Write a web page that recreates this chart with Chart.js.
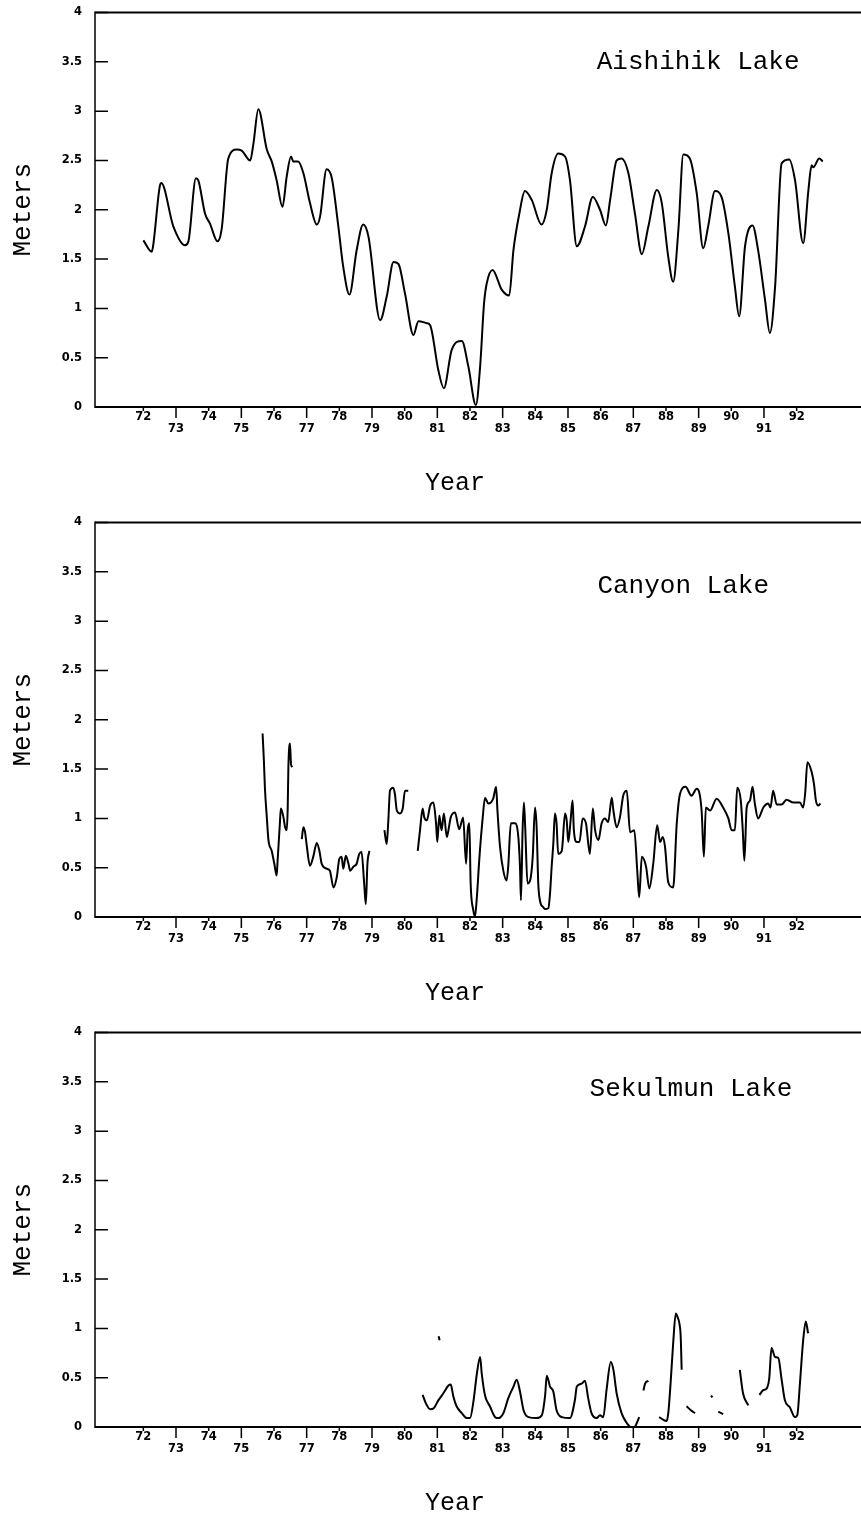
<!DOCTYPE html>
<html>
<head>
<meta charset="utf-8">
<title>Lake levels</title>
<script src="https://cdn.jsdelivr.net/npm/chart.js@4.4.1/dist/chart.umd.min.js"></script>
<style>
  html, body { margin: 0; padding: 0; background: #fff; overflow: hidden; }
  .panel { position: absolute; left: 0; width: 861px; height: 510px; }
  canvas { display: block; }
</style>
</head>
<body>
<div class="panel" style="top:0"><canvas id="aishihik" width="861" height="510"></canvas></div>
<div class="panel" style="top:510px"><canvas id="canyon" width="861" height="510"></canvas></div>
<div class="panel" style="top:1020px"><canvas id="sekulmun" width="861" height="510"></canvas></div>
<script>
// axis ticks
const yearTicks = [72, 73, 74, 75, 76, 77, 78, 79, 80, 81, 82, 83, 84, 85, 86, 87, 88, 89, 90, 91, 92];
const meterTicks = [0, 0.5, 1, 1.5, 2, 2.5, 3, 3.5, 4];
const X_MIN = 70.52;
const X_MAX = 93.97;
const YEAR_TITLE_AT = 81.54;

// Aishihik Lake water level (m)
const aishihikYears = [
  72.00, 72.26, 72.31, 72.51, 72.55, 72.92, 73.28, 73.38, 73.61, 73.68, 73.89, 74.04, 74.27, 74.40,
  74.60, 74.86, 75.01, 75.27, 75.37, 75.52, 75.78, 75.93, 76.08, 76.26, 76.39, 76.52, 76.59, 76.74,
  76.90, 77.10, 77.31, 77.41, 77.61, 77.77, 77.97, 78.12, 78.31, 78.53, 78.73, 78.89, 79.25, 79.45,
  79.66, 79.81, 80.01, 80.27, 80.42, 80.68, 80.78, 81.03, 81.20, 81.44, 81.75, 81.95, 82.18, 82.31,
  82.43, 82.51, 82.69, 82.97, 83.20, 83.33, 83.51, 83.68, 83.89, 84.19, 84.35, 84.50, 84.70, 84.91,
  85.06, 85.27, 85.52, 85.76, 85.98, 86.16, 86.29, 86.49, 86.64, 86.85, 87.05, 87.26, 87.46, 87.72,
  87.87, 88.07, 88.22, 88.38, 88.53, 88.73, 88.94, 89.14, 89.29, 89.50, 89.70, 89.91, 90.11, 90.24,
  90.42, 90.65, 90.82, 91.03, 91.18, 91.34, 91.54, 91.77, 91.95, 92.20, 92.36, 92.46, 92.51, 92.69,
  92.80
];
const aishihikLevels = [
  1.69, 1.575, 1.66, 2.25, 2.27, 1.83, 1.64, 1.68, 2.32, 2.30, 1.96, 1.86, 1.68, 1.81,
  2.52, 2.61, 2.60, 2.50, 2.67, 3.02, 2.61, 2.49, 2.30, 2.03, 2.34, 2.54, 2.49, 2.49,
  2.37, 2.07, 1.85, 1.93, 2.41, 2.32, 1.83, 1.42, 1.14, 1.59, 1.85, 1.73, 0.88, 1.12,
  1.47, 1.45, 1.15, 0.73, 0.87, 0.85, 0.83, 0.375, 0.19, 0.58, 0.67, 0.41, 0.02, 0.41,
  1.05, 1.25, 1.39, 1.19, 1.13, 1.59, 1.96, 2.19, 2.10, 1.85, 2.00, 2.37, 2.57, 2.54,
  2.30, 1.63, 1.83, 2.13, 2.00, 1.84, 2.10, 2.50, 2.52, 2.37, 1.96, 1.55, 1.83, 2.20,
  2.07, 1.52, 1.27, 1.80, 2.56, 2.52, 2.17, 1.61, 1.83, 2.19, 2.13, 1.76, 1.22, 0.92,
  1.63, 1.84, 1.59, 1.09, 0.75, 1.22, 2.47, 2.51, 2.30, 1.66, 2.20, 2.45, 2.43, 2.52,
  2.49
];

// Canyon Lake water level (m); null marks a gap in the record
const canyonYears = [
  75.65, 75.69, 75.72, 75.78, 75.83, 75.93, 76.01, 76.08, 76.11, 76.18, 76.21, 76.29, 76.34, 76.39,
  76.42, 76.44, 76.49, 76.52, 76.56, 76.70,
  76.85, 76.90, 76.95, 77.00, 77.10, 77.20, 77.31, 77.39, 77.46, 77.61, 77.71, 77.82, 77.92, 78.00,
  78.07, 78.12, 78.20, 78.28, 78.33, 78.43, 78.53, 78.61, 78.68, 78.76, 78.81, 78.86, 78.92, 79.10,
  79.38, 79.45, 79.50, 79.55, 79.65, 79.70, 79.76, 79.86, 79.94, 80.01, 80.11, 80.25,
  80.40, 80.47, 80.55, 80.60, 80.68, 80.78, 80.88, 80.96, 81.00, 81.06, 81.13, 81.20, 81.29, 81.34,
  81.41, 81.54, 81.67, 81.79, 81.88, 81.93, 81.98, 82.02, 82.10, 82.15, 82.21, 82.29, 82.39, 82.46,
  82.56, 82.71, 82.80, 82.84, 82.92, 83.02, 83.12, 83.17, 83.25, 83.38, 83.48, 83.53, 83.56, 83.61,
  83.65, 83.69, 83.76, 83.84, 83.92, 83.99, 84.04, 84.09, 84.14, 84.24, 84.30, 84.40, 84.45, 84.50,
  84.55, 84.60, 84.65, 84.70, 84.81, 84.91, 84.96, 85.01, 85.08, 85.14, 85.18, 85.27, 85.35, 85.45,
  85.55, 85.67, 85.76, 85.83, 85.93, 86.03, 86.13, 86.23, 86.34, 86.39, 86.49, 86.59, 86.69, 86.80,
  86.90, 87.03, 87.12, 87.18, 87.26, 87.39, 87.49, 87.61, 87.73, 87.82, 87.90, 87.97, 88.07, 88.22,
  88.33, 88.43, 88.60, 88.78, 88.94, 89.09, 89.16, 89.22, 89.35, 89.55, 89.75, 89.91, 90.01, 90.11,
  90.18, 90.29, 90.35, 90.40, 90.47, 90.57, 90.65, 90.72, 90.82, 90.98, 91.13, 91.20, 91.28, 91.39,
  91.54, 91.69, 91.90, 92.10, 92.20, 92.26, 92.33, 92.46, 92.53, 92.59, 92.66, 92.73
];
const canyonLevels = [
  1.86, 1.59, 1.32, 1.01, 0.78, 0.67, 0.54, 0.42, 0.57, 0.95, 1.10, 1.01, 0.91, 0.88,
  1.11, 1.52, 1.76, 1.55, 1.52, null,
  0.79, 0.91, 0.86, 0.73, 0.52, 0.61, 0.75, 0.67, 0.54, 0.49, 0.47, 0.30, 0.40, 0.59,
  0.61, 0.49, 0.62, 0.54, 0.47, 0.51, 0.54, 0.64, 0.66, 0.34, 0.13, 0.54, 0.67, null,
  0.88, 0.74, 0.98, 1.28, 1.31, 1.25, 1.08, 1.05, 1.10, 1.28, 1.28, null,
  0.67, 0.88, 1.10, 1.01, 0.98, 1.13, 1.16, 0.95, 0.76, 1.03, 0.88, 1.05, 0.81, 0.88,
  1.01, 1.06, 0.89, 1.01, 0.54, 0.88, 0.95, 0.34, 0.07, 0.00, 0.20, 0.61, 1.01, 1.21,
  1.15, 1.20, 1.32, 1.08, 0.71, 0.47, 0.37, 0.51, 0.95, 0.95, 0.81, 0.51, 0.17, 0.88,
  1.16, 0.91, 0.34, 0.37, 0.61, 1.11, 0.91, 0.34, 0.17, 0.10, 0.08, 0.09, 0.24, 0.51,
  0.74, 1.05, 0.95, 0.64, 0.67, 1.05, 0.98, 0.76, 0.98, 1.18, 0.88, 0.76, 0.76, 1.00,
  0.95, 0.64, 1.10, 0.88, 0.78, 0.95, 1.00, 0.96, 1.21, 1.08, 0.91, 1.01, 1.23, 1.28,
  0.86, 0.88, 0.47, 0.20, 0.61, 0.51, 0.29, 0.54, 0.93, 0.76, 0.81, 0.71, 0.35, 0.30,
  0.95, 1.25, 1.32, 1.23, 1.30, 1.08, 0.61, 1.11, 1.08, 1.20, 1.11, 1.00, 0.88, 0.88,
  1.31, 1.18, 0.88, 0.57, 1.11, 1.18, 1.32, 1.15, 1.00, 1.11, 1.15, 1.11, 1.28, 1.14,
  1.14, 1.19, 1.16, 1.16, 1.11, 1.25, 1.57, 1.47, 1.35, 1.18, 1.13, 1.15
];

// Sekulmun Lake water level (m); null marks a gap in the record
const sekulmunYears = [
  80.55, 80.65, 80.78, 80.89, 81.03, 81.18, 81.34, 81.41, 81.49, 81.59, 81.75, 81.90, 82.00, 82.11,
  82.21, 82.31, 82.36, 82.46, 82.61, 82.77, 82.87, 83.02, 83.17, 83.33, 83.43, 83.53, 83.64, 83.79,
  84.04, 84.20, 84.30, 84.35, 84.45, 84.55, 84.65, 84.81, 85.06, 85.21, 85.27, 85.42, 85.52, 85.62,
  85.72, 85.88, 85.98, 86.08, 86.18, 86.31, 86.39, 86.49, 86.64, 86.80, 86.90, 86.98, 87.05, 87.18,
  87.25,
  87.31, 87.36, 87.46, 87.60,
  87.79, 88.02, 88.07, 88.14, 88.22, 88.30, 88.35, 88.41, 88.45, 88.48, 88.55,
  88.63, 88.76, 88.89, 89.00,
  89.38, 89.42, 89.50,
  89.60, 89.75, 90.00,
  90.26, 90.36, 90.52, 90.70,
  90.86, 90.98, 91.08, 91.16, 91.23, 91.34, 91.44, 91.54, 91.64, 91.79, 91.95, 92.02, 92.10, 92.20,
  92.28, 92.35
];
const sekulmunLevels = [
  0.325, 0.24, 0.18, 0.19, 0.27, 0.34, 0.42, 0.43, 0.31, 0.21, 0.14, 0.09, 0.09, 0.27,
  0.54, 0.71, 0.54, 0.32, 0.21, 0.10, 0.09, 0.14, 0.29, 0.41, 0.48, 0.36, 0.17, 0.10,
  0.09, 0.12, 0.32, 0.52, 0.41, 0.36, 0.17, 0.10, 0.09, 0.27, 0.41, 0.44, 0.47, 0.29,
  0.14, 0.09, 0.12, 0.10, 0.375, 0.66, 0.58, 0.34, 0.14, 0.04, 0.00, -0.03, 0.00, 0.10,
  null,
  0.37, 0.44, 0.47, null,
  0.10, 0.06, 0.14, 0.44, 0.85, 1.15, 1.12, 1.05, 0.92, 0.58, null,
  0.21, 0.17, 0.14, null,
  0.32, 0.30, null,
  0.155, 0.13, null,
  0.58, 0.34, 0.22, null,
  0.325, 0.375, 0.39, 0.49, 0.80, 0.71, 0.70, 0.48, 0.27, 0.20, 0.10, 0.12, 0.44, 0.88,
  1.07, 0.95
];
// lone reading early in the Sekulmun record
const sekulmunSpotYears = [81.04, 81.07];
const sekulmunSpotLevels = [0.92, 0.88];

const MONO = '"Liberation Mono", "Courier New", monospace';
const tickFont = { family: '"DejaVu Sans", sans-serif', size: 11.5, weight: 'bold', lineHeight: '12px' };

const toPoints = (xs, ys) => xs.map((x, i) => ({ x, y: ys[i] }));

// frame, inward ticks, lake name and the "Year" caption
const axisFrame = {
  id: 'axisFrame',
  afterDraw(chart, args, opts) {
    const { ctx, chartArea: a, scales: { x, y } } = chart;
    ctx.save();
    ctx.strokeStyle = '#000';
    ctx.lineWidth = 2;
    ctx.beginPath();
    ctx.moveTo(a.left, a.top);
    ctx.lineTo(chart.width, a.top);
    ctx.moveTo(a.left, a.bottom);
    ctx.lineTo(chart.width, a.bottom);
    ctx.stroke();

    ctx.lineWidth = 1.5;
    ctx.beginPath();
    ctx.moveTo(a.left, a.top - 1);
    ctx.lineTo(a.left, a.bottom + 1);
    y.ticks.forEach(t => {
      const py = y.getPixelForValue(t.value);
      ctx.moveTo(a.left, py);
      ctx.lineTo(a.left + 13, py);
    });
    x.ticks.forEach(t => {
      const px = x.getPixelForValue(t.value);
      ctx.moveTo(px, a.bottom);
      ctx.lineTo(px, a.bottom + (t.value % 2 ? 11 : 4));
    });
    ctx.stroke();

    ctx.fillStyle = '#000';
    ctx.textBaseline = 'middle';
    ctx.textAlign = 'left';
    ctx.font = '26px ' + MONO;
    ctx.fillText(opts.name, x.getPixelForValue(opts.nameAt[0]), y.getPixelForValue(opts.nameAt[1]));
    ctx.textAlign = 'center';
    ctx.font = '25px ' + MONO;
    ctx.fillText('Year', x.getPixelForValue(YEAR_TITLE_AT), a.bottom + 76);
    ctx.restore();
  }
};

function makePanel(id, name, nameAt, datasets) {
  return new Chart(document.getElementById(id), {
    type: 'line',
    data: {
      datasets: datasets.map(d => ({
        data: d,
        borderColor: '#000',
        borderWidth: 2,
        pointRadius: 0,
        spanGaps: false,
        cubicInterpolationMode: 'monotone',
        borderJoinStyle: 'round'
      }))
    },
    options: {
      responsive: false,
      devicePixelRatio: 1,
      animation: false,
      events: [],
      layout: { padding: { top: 12.5, right: 0, bottom: 0, left: 0 } },
      plugins: {
        legend: { display: false },
        tooltip: { enabled: false },
        axisFrame: { name, nameAt }
      },
      scales: {
        x: {
          type: 'linear',
          min: X_MIN,
          max: X_MAX,
          afterBuildTicks: s => { s.ticks = yearTicks.map(v => ({ value: v })); },
          afterFit: s => { s.height = 103; },
          grid: { display: false, drawTicks: false },
          border: { display: false },
          ticks: {
            autoSkip: false,
            maxRotation: 0,
            padding: 4.5,
            color: '#000',
            font: tickFont,
            callback: v => (v % 2 ? ['', String(v)] : String(v))
          }
        },
        y: {
          min: 0,
          max: 4,
          afterBuildTicks: s => { s.ticks = meterTicks.map(v => ({ value: v })); },
          // fixed axis width; the label gap should not push the plot down
          afterFit: s => { s.width = 95; s.paddingTop = 0; s.paddingBottom = 0; },
          grid: { display: false, drawTicks: false },
          border: { display: false },
          ticks: { padding: 13, color: '#000', font: tickFont, callback: v => String(v) },
          title: {
            display: true,
            text: 'Meters',
            color: '#000',
            font: { family: MONO, size: 26 },
            padding: { top: 8, bottom: 0 }
          }
        }
      }
    },
    plugins: [axisFrame]
  });
}

makePanel('aishihik', 'Aishihik Lake', [85.88, 3.5],
  [toPoints(aishihikYears, aishihikLevels)]);
makePanel('canyon', 'Canyon Lake', [85.9, 3.36],
  [toPoints(canyonYears, canyonLevels)]);
makePanel('sekulmun', 'Sekulmun Lake', [85.66, 3.43],
  [toPoints(sekulmunYears, sekulmunLevels), toPoints(sekulmunSpotYears, sekulmunSpotLevels)]);
</script>
</body>
</html>
